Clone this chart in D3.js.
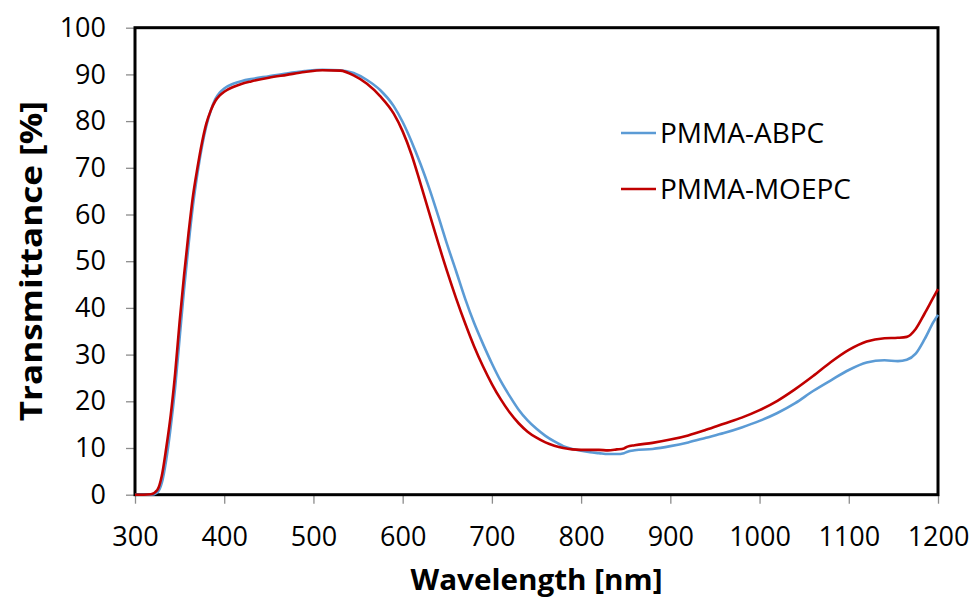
<!DOCTYPE html>
<html>
<head>
<meta charset="utf-8">
<script src="https://cdn.jsdelivr.net/npm/d3@7"></script>
<style>
  html, body { margin: 0; padding: 0; background: #fff; }
  svg { display: block; }
  .tick text { font-family: "Open Sans", sans-serif; font-size: 27px; fill: #000; }
</style>
</head>
<body>
<svg id="chart" width="971" height="601"></svg>
<script>
// Transmission spectra of the two films (wavelength in nm, transmittance in %)
const wavelength = [300, 310, 318, 325, 330, 335, 340, 345, 350, 355, 360, 365, 370, 375, 380, 385, 390, 395, 400, 410, 420, 430, 450, 470, 490, 510, 530, 545, 560, 575, 590, 600, 610, 620, 630, 640, 650, 660, 670, 680, 690, 700, 710, 720, 730, 740, 750, 760, 770, 780, 790, 800, 810, 820, 830, 840, 848, 852, 860, 880, 900, 920, 940, 960, 980, 1000, 1020, 1040, 1060, 1080, 1100, 1120, 1140, 1155, 1165, 1175, 1185, 1195, 1200];

const abpc = [0, 0, 0, 0.5, 2.5, 7.5, 14.5, 23, 33.5, 44, 53.5, 62, 68.8, 74.5, 79, 82.3, 84.7, 86.1, 87, 88, 88.6, 89, 89.6, 90.2, 90.7, 91, 90.9, 90.3, 88.8, 86.6, 83.2, 79.8, 75.6, 70.8, 65.5, 59.6, 53.5, 47.8, 42, 36.8, 32.3, 28.1, 24.3, 21.1, 18.2, 15.9, 14.1, 12.6, 11.4, 10.4, 9.8, 9.4, 9.1, 8.9, 8.7, 8.7, 8.9, 9.2, 9.5, 9.8, 10.4, 11.2, 12.2, 13.2, 14.4, 15.8, 17.5, 19.6, 22.2, 24.5, 26.7, 28.3, 28.8, 28.6, 28.9, 30.2, 33.3, 37, 38.5];

const moepc = [0, 0, 0.1, 1, 4, 10, 17, 26, 37, 47, 56, 64, 70, 75.3, 79.5, 82.3, 84.3, 85.5, 86.3, 87.3, 88, 88.5, 89.3, 89.9, 90.5, 90.9, 90.8, 89.8, 88, 85.3, 81.6, 77.8, 72.8, 66.6, 60.2, 53.8, 47.7, 42, 36.7, 31.8, 27.5, 23.7, 20.4, 17.6, 15.3, 13.5, 12.2, 11.2, 10.5, 10.0, 9.7, 9.6, 9.6, 9.6, 9.5, 9.7, 9.9, 10.3, 10.6, 11.1, 11.8, 12.7, 13.9, 15.2, 16.5, 18.1, 20.1, 22.6, 25.4, 28.4, 31, 32.8, 33.5, 33.6, 33.8, 35.5, 38.8, 42.3, 44];

const seriesNames = ["PMMA-ABPC", "PMMA-MOEPC"];
const seriesColors = ["#5b9bd5", "#c00000"];
const xTicks = [300, 400, 500, 600, 700, 800, 900, 1000, 1100, 1200];
const yTicks = [0, 10, 20, 30, 40, 50, 60, 70, 80, 90, 100];

const svg = d3.select("#chart");
const plot = { left: 135, right: 938, top: 27.7, bottom: 494.7 };

const x = d3.scaleLinear().domain([300, 1200]).range([plot.left, plot.right]);
const y = d3.scaleLinear().domain([0, 100]).range([plot.bottom, plot.top]);

// Axes with outward grey ticks
const yAxis = svg.append("g")
  .attr("transform", `translate(${plot.left},0)`)
  .call(d3.axisLeft(y).tickValues(yTicks).tickFormat(d3.format("d")).tickSize(9).tickPadding(20));
const xAxis = svg.append("g")
  .attr("transform", `translate(0,${plot.bottom})`)
  .call(d3.axisBottom(x).tickValues(xTicks).tickFormat(d3.format("d")).tickSize(9).tickPadding(23));
[xAxis, yAxis].forEach(g => {
  g.select(".domain").remove();
  g.selectAll(".tick line").attr("stroke", "#8c8c8c").attr("stroke-width", 1.3);
});

// Plot frame
svg.append("rect")
  .attr("x", plot.left).attr("y", plot.top)
  .attr("width", plot.right - plot.left).attr("height", plot.bottom - plot.top)
  .attr("fill", "none").attr("stroke", "#000").attr("stroke-width", 3);

// Spectra
const series = [abpc, moepc];
const line = d3.line()
  .x(d => x(d[0]))
  .y(d => y(d[1]))
  .curve(d3.curveMonotoneX);

series.forEach((vals, i) => {
  svg.append("path")
    .datum(wavelength.map((w, j) => [w, vals[j]]))
    .attr("fill", "none")
    .attr("stroke", seriesColors[i])
    .attr("stroke-width", 2.6)
    .attr("stroke-linejoin", "round")
    .attr("d", line);
});

// Legend
const legend = svg.append("g").attr("transform", "translate(621,133)");
seriesNames.forEach((name, i) => {
  const row = legend.append("g").attr("transform", `translate(0,${i * 56})`);
  row.append("line")
    .attr("x1", 0).attr("x2", 35).attr("y1", 0).attr("y2", 0)
    .attr("stroke", seriesColors[i]).attr("stroke-width", 2.6);
  row.append("text")
    .attr("x", 39).attr("y", 0).attr("dy", "0.36em")
    .attr("font-family", "'Open Sans', sans-serif")
    .attr("font-size", 28)
    .attr("fill", "#000")
    .text(name);
});

// Axis titles
svg.append("text")
  .attr("transform", `translate(42,${(plot.top + plot.bottom) / 2}) rotate(-90)`)
  .attr("text-anchor", "middle")
  .attr("font-family", "'Open Sans', sans-serif")
  .attr("font-weight", "bold")
  .attr("font-size", 31)
  .attr("textLength", 320)
  .attr("lengthAdjust", "spacingAndGlyphs")
  .text("Transmittance [%]");

svg.append("text")
  .attr("x", (plot.left + plot.right) / 2)
  .attr("y", 590)
  .attr("text-anchor", "middle")
  .attr("font-family", "'Open Sans', sans-serif")
  .attr("font-weight", "bold")
  .attr("font-size", 29)
  .attr("textLength", 252)
  .attr("lengthAdjust", "spacingAndGlyphs")
  .text("Wavelength [nm]");
</script>
</body>
</html>
